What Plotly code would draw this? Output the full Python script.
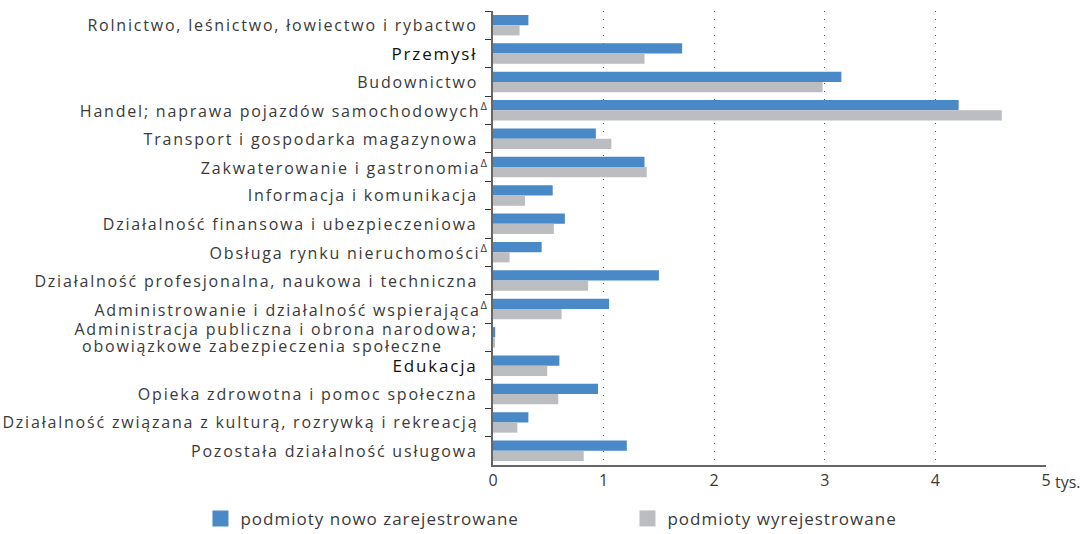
import plotly.graph_objects as go

categories = [
    "Rolnictwo, leśnictwo, łowiectwo i rybactwo",
    "Przemysł",
    "Budownictwo",
    "Handel; naprawa pojazdów samochodowych",
    "Transport i gospodarka magazynowa",
    "Zakwaterowanie i gastronomia",
    "Informacja i komunikacja",
    "Działalność finansowa i ubezpieczeniowa",
    "Obsługa rynku nieruchomości",
    "Działalność profesjonalna, naukowa i techniczna",
    "Administrowanie i działalność wspierająca",
    "Administracja publiczna i obrona narodowa; obowiązkowe zabezpieczenia społeczne",
    "Edukacja",
    "Opieka zdrowotna i pomoc społeczna",
    "Działalność związana z kulturą, rozrywką i rekreacją",
    "Pozostała działalność usługowa",
]
label_lines = [
    ["Rolnictwo, leśnictwo, łowiectwo i rybactwo"],
    ["Przemysł"],
    ["Budownictwo"],
    ["Handel; naprawa pojazdów samochodowych"],
    ["Transport i gospodarka magazynowa"],
    ["Zakwaterowanie i gastronomia"],
    ["Informacja i komunikacja"],
    ["Działalność finansowa i ubezpieczeniowa"],
    ["Obsługa rynku nieruchomości"],
    ["Działalność profesjonalna, naukowa i techniczna"],
    ["Administrowanie i działalność wspierająca"],
    ["Administracja publiczna i obrona narodowa;", "obowiązkowe zabezpieczenia społeczne"],
    ["Edukacja"],
    ["Opieka zdrowotna i pomoc społeczna"],
    ["Działalność związana z kulturą, rozrywką i rekreacją"],
    ["Pozostała działalność usługowa"],
]
delta_flags = [0, 0, 0, 1, 0, 1, 0, 0, 1, 0, 1, 0, 0, 0, 0, 0]
emphasis_flags = [0, 1, 0, 0, 0, 0, 0, 0, 0, 0, 0, 0, 1, 0, 0, 0]

registered = [0.32, 1.71, 3.15, 4.21, 0.93, 1.37, 0.54, 0.65, 0.44, 1.50, 1.05,
              0.02, 0.60, 0.95, 0.32, 1.21]
deregistered = [0.24, 1.37, 2.98, 4.60, 1.07, 1.39, 0.29, 0.55, 0.15, 0.86, 0.62,
                0.01, 0.49, 0.59, 0.22, 0.82]

series_names = ["podmioty nowo zarejestrowane", "podmioty wyrejestrowane"]
colors = ["#4a89c8", "#bcbdc1"]
x_ticks = [0, 1, 2, 3, 4, 5]
unit_label = "tys."

FONT = "Open Sans"
TXT = "#3a3a3a"

fig = go.Figure()
for name, vals, col in zip(series_names, [registered, deregistered], colors):
    fig.add_trace(go.Bar(
        y=categories, x=vals, orientation="h", name=name,
        marker=dict(color=col, line=dict(width=0)), showlegend=False,
        hoverinfo="skip",
    ))
# legend entries with larger square swatches
for name, col in zip(series_names, colors):
    fig.add_trace(go.Scatter(
        x=[None], y=[None], mode="markers", name=name,
        marker=dict(symbol="square", size=16, color=col),
    ))

annotations = []
for cat, lines, d, e in zip(categories, label_lines, delta_flags, emphasis_flags):
    fnt = dict(family=FONT, size=17 if e else 16, color="#111" if e else TXT)
    if len(lines) == 1:
        txt = lines[0] + ("<sup>Δ</sup>" if d else "")
        annotations.append(dict(
            x=0, xref="paper", y=cat, yref="y",
            text=txt, showarrow=False, xanchor="right", yanchor="middle",
            align="right", xshift=-2 if d else -13, font=fnt,
        ))
    else:
        annotations.append(dict(
            x=0, xref="paper", y=cat, yref="y",
            text=lines[0], showarrow=False, xanchor="right", yanchor="middle",
            align="right", xshift=-13, yshift=8, font=fnt,
        ))
        annotations.append(dict(
            x=0, xref="paper", y=cat, yref="y",
            text=lines[1], showarrow=False, xanchor="left", yanchor="middle",
            align="left", xshift=-413, yshift=-9, font=fnt,
        ))
annotations.append(dict(
    x=1, xref="paper", y=0, yref="paper", text=unit_label, showarrow=False,
    xanchor="left", yanchor="top", xshift=7, yshift=-4,
    font=dict(family=FONT, size=16, color=TXT),
))

fig.update_layout(
    width=1084, height=534,
    margin=dict(l=493, r=38, t=11, b=69, autoexpand=False),
    paper_bgcolor="white", plot_bgcolor="white",
    barmode="group", bargap=0.28, bargroupgap=0,
    font=dict(family=FONT, size=16, color=TXT),
    xaxis=dict(
        range=[0, 5], tickvals=x_ticks, ticktext=[str(v) for v in x_ticks],
        showgrid=True, gridcolor="#555", griddash="1px,7px", gridwidth=1,
        showline=True, linecolor="#666", linewidth=1.5,
        zeroline=False, ticks="", fixedrange=True,
        tickfont=dict(family=FONT, size=16, color=TXT),
    ),
    yaxis=dict(
        autorange="reversed", showticklabels=False,
        showline=True, linecolor="#666", linewidth=1.5,
        ticks="outside", tickson="boundaries", ticklen=6, tickcolor="#333",
        showgrid=False, zeroline=False, fixedrange=True,
    ),
    legend=dict(
        orientation="h", x=-0.529, xanchor="left", y=-0.079, yanchor="top",
        entrywidth=382, entrywidthmode="pixels",
        font=dict(family=FONT, size=17, color=TXT),
        itemclick=False, itemdoubleclick=False,
    ),
    annotations=annotations,
)

# remove the page margin and widen character spacing of the category and legend
# texts (the reference uses spaced type)
post = """
document.body.style.margin = '0';
var gd = document.getElementById('{plot_id}');
function spaceText() {
  var anns = gd.querySelectorAll('.annotation-text');
  anns.forEach(function(t) {
    if (t.textContent.indexOf('tys.') === -1) { t.style.letterSpacing = '1.8px'; }
  });
  gd.querySelectorAll('.legendtext').forEach(function(t) { t.style.letterSpacing = '1px'; });
}
spaceText();
if (gd.on) { gd.on('plotly_afterplot', spaceText); }
"""

fig.write_html("out.html", post_script=post, config={"displayModeBar": False})
